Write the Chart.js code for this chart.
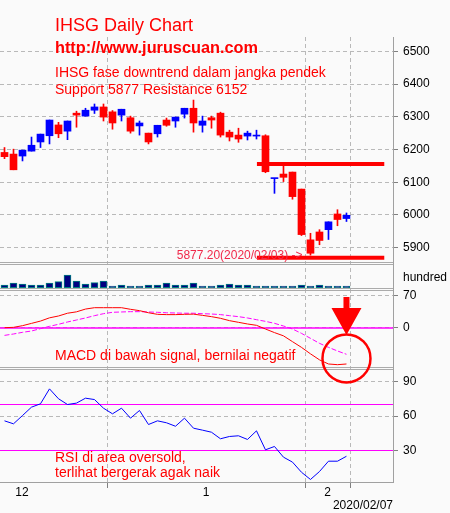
<!DOCTYPE html>
<html>
<head>
<meta charset="utf-8">
<title>IHSG Daily Chart</title>
<script src="https://cdn.jsdelivr.net/npm/chart.js@4.4.1/dist/chart.umd.min.js"></script>
<style>
  html, body { margin: 0; padding: 0; background: #fafafa; }
  #wrap { width: 450px; height: 513px; }
</style>
</head>
<body>
<div id="wrap"><canvas id="chart" width="450" height="513"></canvas></div>
<script>
// IHSG daily candles, mid Dec 2019 .. 2020/02/07
const opens  = [6191, 6186, 6180, 6195, 6223, 6242, 6275, 6256, 6311, 6302,
                6320, 6330, 6315, 6305, 6297, 6272, 6250, 6248, 6290, 6287,
                6308, 6326, 6274, 6297, 6311, 6253, 6244, 6241, 6241, 6242,
                6111, 6125, 6131, 6079, 5924, 5948, 5955, 6003, 5989];
const highs  = [6206, 6201, 6198, 6238, 6247, 6290, 6283, 6287, 6317, 6326,
                6339, 6339, 6319, 6323, 6302, 6287, 6250, 6274, 6296, 6299,
                6326, 6351, 6302, 6302, 6314, 6259, 6265, 6256, 6259, 6245,
                6112, 6150, 6131, 6079, 5944, 5955, 5979, 6016, 6006];
const lows   = [6172, 6138, 6165, 6195, 6206, 6217, 6236, 6230, 6268, 6302,
                6310, 6287, 6262, 6287, 6250, 6244, 6217, 6238, 6271, 6268,
                6296, 6253, 6253, 6265, 6238, 6226, 6222, 6229, 6232, 6129,
                6066, 6102, 6048, 5937, 5877.2, 5909, 5925, 5967, 5980];
const closes = [6178, 6138, 6198, 6213, 6247, 6290, 6248, 6287, 6305, 6320,
                6330, 6299, 6281, 6323, 6256, 6281, 6223, 6274, 6274, 6299,
                6326, 6281, 6287, 6290, 6244, 6238, 6232, 6250, 6244, 6132,
                6112, 6115, 6056, 5940, 5883, 5922, 5979, 5986, 5999];

// volume, in hundreds (relative)
const volumes = [27, 47, 37, 27, 27, 47, 60, 127, 67, 37,
                 50, 67, 17, 27, 17, 17, 27, 27, 47, 27,
                 27, 47, 17, 17, 27, 37, 27, 27, 17, 17,
                 17, 17, 17, 27, 17, 27, 17, 17, 17];

const macdLine   = [0.7, 1.4, 5, 10, 15, 22, 26, 32, 35, 41,
                    44, 44, 44, 44, 40.5, 37.6, 33, 29.6, 29, 29,
                    29.6, 30, 27.4, 24.6, 21, 15.9, 12.3, 8.7, 5.8, -2.2,
                    -10, -17, -29.6, -42, -56, -69, -78, -79.5, -78];
const signalLine = [-16, -13, -9.4, -6.5, -1.4, 3.6, 8, 13, 17.3, 21.7,
                    26.7, 31, 34, 34.7, 35.4, 35.4, 34.7, 34, 33, 32.5,
                    32, 32, 31, 30.3, 29, 26.7, 24.6, 21.7, 18, 14.4,
                    10.1, 4.3, -2.2, -11.6, -22.4, -33.2, -41.9, -49.8, -57];
const rsiLine    = [55.8, 53.2, 60.4, 67.7, 70.6, 83.6, 75, 70, 71.2, 75.5,
                    74.3, 66.8, 61.9, 66.8, 58.1, 64.8, 52.6, 55.8, 54.1, 51.1,
                    58.1, 49.4, 47.7, 45.9, 40.2, 42.2, 42.8, 39.6, 47.1, 30.6,
                    33.5, 24.2, 19.9, 11.1, 4.8, 11.7, 20.7, 20.7, 25];

const priceTicks = [5900, 6000, 6100, 6200, 6300, 6400, 6500];
const macdTicks  = [0, 70];
const rsiTicks   = [30, 60, 90];
const rsiLevels  = [70, 30];
const volLabelAt = 97;

const monthLabels   = ['12', '1', '2'];
const monthLabelPos = [1.94, 22.4, 35.9];
const monthBounds   = [11.5, 33.5, 38.5];
const lastDate = '2020/02/07';

const resistance = 6156;
const support    = 5869;
const srFrom = 28.05, srTo = 42.2;
const lowIdx = 34;
const lowDate = '2020/02/03';

const X_MIN = -0.5, X_MAX = 43.17;

const RED     = '#ff0000';
const BLUE    = '#0000ff';
const MAGENTA = '#ff00ff';
const GRID    = '#b9b9b9';
const AXIS    = '#a0a0a0';
const FONT    = '"Liberation Sans", Arial, sans-serif';

Chart.defaults.font.family = FONT;
Chart.defaults.font.size = 12;
Chart.defaults.color = '#000';

const idx = opens.map((_, i) => i);
const candleColor = idx.map(i => closes[i] >= opens[i] ? BLUE : RED);
const flat = v => [{ x: X_MIN, y: v }, { x: X_MAX, y: v }];
const series = arr => arr.map((v, i) => ({ x: i, y: v }));
const isBound = c => c.tick && monthBounds.includes(c.tick.value);

// panel separators + annotations
const notes = {
  id: 'notes',
  beforeDatasetsDraw(chart) {
    const ctx = chart.ctx, right = chart.chartArea.right;
    ctx.save();
    ctx.strokeStyle = '#ababab';
    ctx.lineWidth = 1;
    ['price', 'vol', 'macd'].forEach(id => {
      const y = Math.round(chart.scales[id].bottom);
      [y - 0.5, y + 1.5].forEach(yy => {
        ctx.beginPath(); ctx.moveTo(0, yy); ctx.lineTo(right, yy); ctx.stroke();
      });
    });
    ctx.restore();
  },
  afterDraw(chart) {
    const ctx = chart.ctx;
    const xs = chart.scales.x, ps = chart.scales.price, ms = chart.scales.macd;
    ctx.save();
    ctx.fillStyle = RED;
    ctx.textAlign = 'left';
    ctx.textBaseline = 'alphabetic';
    ctx.font = '18px ' + FONT;
    ctx.fillText('IHSG Daily Chart', 55, 31);
    ctx.font = 'bold 16.3px ' + FONT;
    ctx.fillText('http://www.juruscuan.com', 55, 53);
    ctx.font = '14px ' + FONT;
    ctx.fillText('IHSG fase downtrend dalam jangka pendek', 55, 77);
    ctx.fillText('Support 5877 Resistance 6152', 55, 93.5);
    ctx.fillText('MACD di bawah signal, bernilai negatif', 55, 360);
    ctx.fillText('RSI di area oversold,', 55, 461.5);
    ctx.fillText('terlihat bergerak agak naik', 55, 477);

    // low marker text
    ctx.font = '12px ' + FONT;
    ctx.fillStyle = '#f0284a';
    ctx.textAlign = 'right';
    ctx.textBaseline = 'middle';
    ctx.fillText(lows[lowIdx].toFixed(2) + '(' + lowDate + ') ->',
      xs.getPixelForValue(lowIdx) - 8, ps.getPixelForValue(lows[lowIdx]) + 1);

    // circle + arrow on the MACD cross
    const cx = xs.getPixelForValue(38), cy = ms.getPixelForValue(-66);
    ctx.strokeStyle = RED;
    ctx.lineWidth = 2.5;
    ctx.beginPath(); ctx.arc(cx, cy, 24, 0, Math.PI * 2); ctx.stroke();
    const tip = ms.getPixelForValue(-15);
    ctx.fillStyle = RED;
    ctx.beginPath();
    ctx.moveTo(cx - 3, tip - 38); ctx.lineTo(cx + 3, tip - 38);
    ctx.lineTo(cx + 3, tip - 27); ctx.lineTo(cx + 15, tip - 27);
    ctx.lineTo(cx, tip);
    ctx.lineTo(cx - 15, tip - 27); ctx.lineTo(cx - 3, tip - 27);
    ctx.closePath(); ctx.fill();
    ctx.restore();
  }
};

const lineDs = (label, data, axis, color, extra) => Object.assign({
  type: 'line', label, data, yAxisID: axis,
  borderColor: color, borderWidth: 1, pointRadius: 0, tension: 0, fill: false,
}, extra || {});

new Chart(document.getElementById('chart'), {
  type: 'line',
  data: {
    datasets: [
      lineDs('Resistance', [{ x: srFrom, y: resistance }, { x: srTo, y: resistance }], 'price', RED, { borderWidth: 4 }),
      lineDs('Support',    [{ x: srFrom, y: support }, { x: srTo, y: support }], 'price', RED, { borderWidth: 4 }),
      {
        type: 'bar', label: 'Body', yAxisID: 'price',
        data: idx.map(i => ({ x: i, y: [opens[i], closes[i]] })),
        backgroundColor: candleColor,
        barThickness: 7, grouped: false, minBarLength: 1,
      },
      {
        type: 'bar', label: 'Wick', yAxisID: 'price',
        data: idx.map(i => ({ x: i, y: [lows[i], highs[i]] })),
        backgroundColor: candleColor,
        barThickness: 1, grouped: false,
      },
      {
        type: 'bar', label: 'Volume', yAxisID: 'vol',
        data: series(volumes),
        backgroundColor: '#000080', borderColor: '#008080', borderWidth: 1,
        borderSkipped: false, barThickness: 7, grouped: false,
      },
      lineDs('MACD',   series(macdLine),   'macd', RED),
      lineDs('Signal', series(signalLine), 'macd', MAGENTA, { borderDash: [5, 2] }),
      lineDs('Zero',   flat(0),            'macd', MAGENTA, { borderWidth: 1.3 }),
      lineDs('RSI',    series(rsiLine),    'rsi',  BLUE),
      ...rsiLevels.map(v => lineDs('RSI ' + v, flat(v), 'rsi', MAGENTA, { borderWidth: 1.2 })),
    ],
  },
  options: {
    responsive: false,
    animation: false,
    events: [],
    layout: { padding: { top: 37, left: 0, right: 0, bottom: 0 } },
    plugins: { legend: { display: false }, tooltip: { enabled: false } },
    scales: {
      x: {
        type: 'linear', min: X_MIN, max: X_MAX, offset: false,
        afterBuildTicks: s => {
          s.ticks = [...monthBounds, ...monthLabelPos].sort((a, b) => a - b).map(v => ({ value: v }));
        },
        afterFit: s => { s.height = 31; },
        ticks: {
          autoSkip: false, maxRotation: 0, padding: -3,
          callback: v => { const k = monthLabelPos.indexOf(v); return k >= 0 ? monthLabels[k] : ''; },
        },
        grid: {
          offset: false,
          color: c => isBound(c) ? GRID : 'transparent',
          tickColor: c => isBound(c) ? '#808080' : 'transparent',
          tickLength: 6,
        },
        border: { display: true, color: AXIS, dash: [4, 3] },
        title: { display: true, text: lastDate, align: 'end', padding: 0, font: { size: 12 } },
      },
      price: {
        type: 'linear', position: 'right', stack: 'panels', stackWeight: 226,
        min: 5853.2, max: 6543.7,
        afterBuildTicks: s => { s.ticks = priceTicks.map(v => ({ value: v })); },
        afterFit: s => { s.width = 57; },
        ticks: { padding: 5, callback: v => String(v) },
        grid: { color: GRID, tickColor: '#808080', tickLength: 5 },
        border: { color: AXIS, dash: [4, 3] },
      },
      vol: {
        type: 'linear', position: 'right', stack: 'panels', stackWeight: 26,
        min: -13, max: 247,
        afterBuildTicks: s => { s.ticks = [{ value: volLabelAt }]; },
        afterFit: s => { s.width = 57; },
        ticks: { padding: 10, callback: () => 'hundred' },
        grid: { drawOnChartArea: false, drawTicks: false },
        border: { color: AXIS },
      },
      macd: {
        type: 'linear', position: 'right', stack: 'panels', stackWeight: 79,
        min: -86.7, max: 84.5,
        afterBuildTicks: s => { s.ticks = macdTicks.map(v => ({ value: v })); },
        afterFit: s => { s.width = 57; },
        ticks: { padding: 5, callback: v => String(v) },
        grid: { color: GRID, tickColor: '#808080', tickLength: 5 },
        border: { color: AXIS, dash: [4, 3] },
      },
      rsi: {
        type: 'linear', position: 'right', stack: 'panels', stackWeight: 114,
        min: 2.61, max: 101.74,
        afterBuildTicks: s => { s.ticks = rsiTicks.map(v => ({ value: v })); },
        afterFit: s => { s.width = 57; },
        ticks: { padding: 5, callback: v => String(v) },
        grid: { color: GRID, tickColor: '#808080', tickLength: 5 },
        border: { color: AXIS, dash: [4, 3] },
      },
    },
  },
  plugins: [notes],
});
</script>
</body>
</html>
